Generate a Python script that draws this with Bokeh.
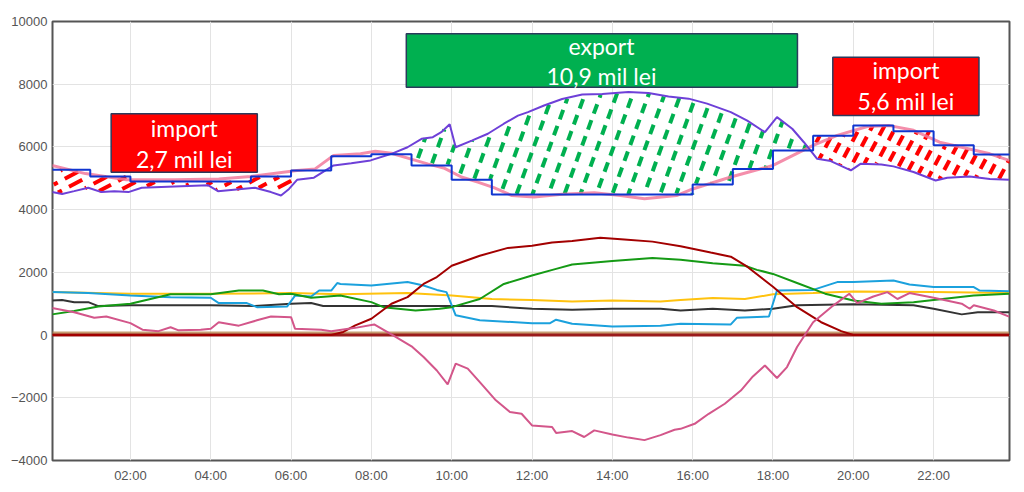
import numpy as np
from bokeh.plotting import figure
from bokeh.models import Range1d, FixedTicker
from bokeh.embed import file_html
from bokeh.resources import INLINE
from bokeh.core.properties import value

# ---------------- data (hours of day, MW) ----------------
x_ticks = [2, 4, 6, 8, 10, 12, 14, 16, 18, 20, 22]
x_tick_labels = ["02:00", "04:00", "06:00", "08:00", "10:00", "12:00",
                 "14:00", "16:00", "18:00", "20:00", "22:00"]
y_ticks = [-4000, -2000, 0, 2000, 4000, 6000, 8000, 10000]

# hourly forecast consumption (step line, blue)
forecast_hours = list(range(24))
forecast_mw = [5270, 5060, 4900, 4900, 4900, 5060, 5250, 5700, 5770, 5410, 4950, 4480,
               4480, 4480, 4480, 4480, 4800, 5300, 5890, 6360, 6680, 6500, 6050, 5760]

# actual consumption (light pink)
consum_t = [0.05, 0.88, 1.9, 3.1, 4.2, 5.0, 6.15, 6.6, 7.06, 7.73, 8.1, 8.5, 8.97, 9.4, 9.8,
            10.24, 10.65, 11.05, 11.5, 12.05, 12.75, 13.55, 14.2, 14.8, 15.6, 16.0, 16.95,
            18.0, 18.5, 19.0, 19.6, 20.35, 20.9, 21.5, 22.15, 22.7, 23.4, 23.88]
consum_mw = [5410, 5150, 4950, 4950, 4980, 5060, 5250, 5300, 5730, 5780, 5860, 5800, 5620,
             5460, 5330, 5040, 4880, 4700, 4450, 4400, 4490, 4540, 4450, 4350, 4450, 4660,
             5040, 5410, 5730, 6050, 6370, 6650, 6680, 6530, 6150, 5990, 5780, 5570]

# production (purple)
prod_t = [0.05, 0.3, 0.6, 0.95, 1.28, 1.6, 1.95, 2.28, 3.1, 3.93, 4.18, 4.77, 5.1, 5.5, 5.75,
          5.95, 6.15, 6.57, 7.06, 7.5, 7.98, 8.5, 8.9, 9.25, 9.53, 9.74, 9.95, 10.1, 10.5,
          10.9, 11.3, 11.65, 11.9, 12.3, 12.75, 13.25, 13.75, 14.4, 14.9, 15.4, 15.9, 16.36,
          16.95, 17.36, 17.8, 18.1, 18.48, 18.77, 19.1, 19.44, 19.94, 20.18, 20.7, 21.0,
          21.5, 22.05, 22.34, 22.9, 23.4, 23.88]
prod_mw = [4560, 4500, 4590, 4700, 4560, 4590, 4560, 4700, 4740, 4780, 4590, 4660, 4700,
           4560, 4450, 4660, 4950, 5020, 5410, 5480, 5570, 5780, 5990, 6260, 6310, 6470,
           6720, 5990, 6200, 6420, 6740, 7000, 7110, 7320, 7530, 7670, 7690, 7750, 7720,
           7610, 7540, 7380, 7110, 6840, 6470, 6950, 6580, 6150, 5620, 5550, 5250, 5460,
           5440, 5380, 5200, 4930, 5020, 5060, 4980, 4950]

# nuclear (yellow)
nuclear_t = [0.05, 2.0, 4.0, 6.0, 7.23, 8.9, 10.0, 11.0, 12.0, 13.0, 14.0, 15.2, 15.7,
             16.5, 17.3, 18.0, 19.0, 20.0, 22.0, 23.88]
nuclear_mw = [1370, 1316, 1316, 1340, 1300, 1340, 1260, 1150, 1120, 1070, 1100, 1070, 1120,
              1180, 1150, 1300, 1340, 1390, 1370, 1340]

# coal (dark grey)
coal_t = [0.05, 0.3, 0.6, 0.95, 1.2, 2.0, 4.0, 5.1, 6.0, 6.5, 6.8, 7.23, 10.0, 11.0, 12.0,
          13.0, 14.0, 15.2, 15.7, 16.5, 17.3, 18.0, 18.6, 20.0, 21.5, 22.0, 22.7, 23.1, 23.88]
coal_mw = [1103, 1120, 1050, 1050, 925, 950, 950, 925, 1000, 1020, 925, 925, 925, 925, 840,
           805, 840, 840, 785, 840, 785, 840, 950, 980, 950, 840, 660, 730, 730]

# hydro (light blue)
hydro_t = [0.05, 0.95, 2.0, 3.0, 4.0, 4.2, 4.9, 5.15, 5.9, 6.1, 6.5, 6.7, 7.0, 7.15, 7.23,
           8.0, 8.9, 9.3, 9.63, 9.87, 10.1, 10.7, 12.0, 12.45, 12.6, 13.0, 14.0, 15.2, 15.7,
           16.95, 17.1, 17.9, 18.1, 19.0, 19.6, 20.0, 21.0, 21.4, 22.0, 23.0, 23.15, 23.88]
hydro_mw = [1370, 1340, 1260, 1210, 1190, 1020, 1020, 890, 910, 1260, 1230, 1420, 1420, 1660,
            1630, 1580, 1690, 1580, 1440, 1370, 630, 470, 380, 380, 490, 360, 270, 300, 360,
            340, 550, 590, 1420, 1440, 1690, 1690, 1740, 1610, 1530, 1530, 1420, 1400]

# wind (green)
wind_t = [0.05, 0.6, 1.2, 2.0, 2.5, 3.0, 4.0, 4.7, 5.3, 5.7, 6.0, 6.5, 7.23, 8.0, 8.3, 9.1,
          9.7, 10.0, 10.7, 11.3, 12.0, 12.6, 13.0, 14.0, 15.0, 15.7, 16.5, 17.3, 17.6, 18.0,
          18.6, 19.3, 20.0, 20.7, 21.5, 22.0, 23.0, 23.88]
wind_mw = [660, 770, 910, 1000, 1150, 1300, 1300, 1420, 1420, 1300, 1320, 1190, 1260, 1050,
           890, 785, 840, 890, 1150, 1630, 1900, 2110, 2250, 2360, 2460, 2400, 2290, 2210,
           2080, 1950, 1660, 1320, 1100, 1000, 1050, 1120, 1260, 1320]

# photovoltaic (dark red)
solar_t = [0.05, 7.0, 7.3, 7.6, 8.0, 8.5, 8.9, 9.3, 9.63, 10.0, 10.7, 11.4, 12.0, 12.5, 13.0,
           13.7, 14.3, 15.0, 15.7, 16.45, 16.95, 17.36, 18.0, 18.6, 19.2, 19.7, 20.0, 23.88]
solar_mw = [0, 0, 100, 310, 520, 1000, 1210, 1630, 1850, 2210, 2530, 2780, 2850, 2950, 3000,
            3100, 3050, 2980, 2830, 2630, 2500, 2180, 1540, 890, 410, 125, 0, 0]

# import/export balance (pink)
balance_t = [0.05, 0.6, 1.1, 1.4, 2.0, 2.3, 2.7, 3.0, 3.2, 3.75, 4.0, 4.2, 4.7, 5.15, 5.5,
             6.0, 6.1, 6.75, 7.0, 7.6, 8.07, 8.5, 9.0, 9.3, 9.63, 9.9, 10.1, 10.4, 10.7, 11.1,
             11.45, 11.74, 12.0, 12.5, 12.6, 13.0, 13.3, 13.55, 14.0, 14.4, 14.8, 15.2, 15.55,
             15.7, 16.05, 16.4, 16.8, 17.2, 17.5, 17.8, 18.1, 18.35, 18.6, 19.0, 19.5, 19.9,
             20.1, 20.5, 20.85, 21.1, 21.4, 22.0, 22.7, 22.9, 23.0, 23.5, 23.88]
balance_mw = [860, 730, 550, 590, 380, 170, 125, 250, 150, 170, 200, 410, 300, 470, 590, 570,
              200, 170, 125, 230, 340, 20, -360, -700, -1130, -1570, -910, -1070, -1500,
              -2080, -2450, -2510, -2880, -2930, -3120, -3060, -3250, -3040, -3170, -3270,
              -3350, -3190, -3020, -2990, -2830, -2510, -2190, -1770, -1320, -970, -1370,
              -1020, -380, 410, 940, 1320, 1020, 1230, 1370, 1150, 1340, 1190, 1000, 840, 950,
              785, 590]

# flat series near zero
other1_t = [0.05, 23.88]
other1_mw = [70, 70]
other2_t = [0.05, 23.88]
other2_mw = [0, 0]

# import / export intervals (hours) and labels
import1_span = [0.0, 6.2]
export_span = [8.9, 18.9]
import2_span = [18.9, 24.0]
box_labels = [("import", "2,7 mil lei"), ("export", "10,9 mil lei"), ("import", "5,6 mil lei")]

# ---------------- figure ----------------
X0, X1 = 0.06, 23.89
Y0, Y1 = -4000, 10000
FW, FH = 957, 439

p = figure(frame_width=FW, frame_height=FH, output_backend="svg", toolbar_location=None,
           x_range=Range1d(X0, X1), y_range=Range1d(Y0, Y1),
           min_border_left=52, min_border_right=8, min_border_top=21, min_border_bottom=10)
p.title.visible = False
p.background_fill_color = "white"
p.border_fill_color = "white"
p.outline_line_color = "#555555"
p.outline_line_width = 2

p.xaxis.ticker = FixedTicker(ticks=x_ticks)
p.xaxis.major_label_overrides = {t: l for t, l in zip(x_ticks, x_tick_labels)}
p.yaxis.ticker = FixedTicker(ticks=y_ticks)
for ax in (p.xaxis, p.yaxis):
    ax.axis_line_color = None
    ax.major_tick_line_color = None
    ax.minor_tick_line_color = None
    ax.major_tick_out = 0
    ax.major_tick_in = 0
    ax.major_label_text_font = "Liberation Sans"
    ax.major_label_text_font_size = "13px"
    ax.major_label_text_color = "#555555"
p.xaxis.major_label_standoff = 7
p.yaxis.major_label_standoff = 5
p.xgrid.grid_line_color = "#e3e3e3"
p.ygrid.grid_line_color = "#e3e3e3"


def forecast_at(h):
    idx = np.clip(np.floor(h).astype(int), 0, 23)
    return np.array(forecast_mw)[idx]


def to_data(px, py):
    return X0 + px / FW * (X1 - X0), Y0 + py / FH * (Y1 - Y0)


def hatch(angle, sp, L, G, span, export):
    a = np.radians(angle)
    d = np.array([np.cos(a), np.sin(a)])
    n = np.array([np.sin(a), -np.cos(a)])
    diag = np.hypot(FW, FH)
    ks = np.arange(-int(diag / sp) - 2, int(diag / sp) + 2) * sp
    ts = np.arange(-diag, diag, L + G)
    K, T = np.meshgrid(ks, ts)
    sx = K * n[0] + T * d[0]
    sy = K * n[1] + T * d[1]
    frac = np.linspace(0, 1, 11)
    px = sx[..., None] + frac * L * d[0]
    py = sy[..., None] + frac * L * d[1]
    h, v = to_data(px, py)
    b = forecast_at(h)
    pr = np.interp(h, prod_t, prod_mw)
    inside = (v >= np.minimum(b, pr)) & (v <= np.maximum(b, pr))
    inside &= (h >= max(span[0], X0)) & (h <= min(span[1], X1))
    inside &= (pr > b) if export else (b > pr)
    anyin = inside.any(axis=-1)
    m = frac.size
    first = np.argmax(inside, axis=-1)
    last = m - 1 - np.argmax(inside[..., ::-1], axis=-1)
    hx0 = np.take_along_axis(h, first[..., None], -1)[..., 0][anyin]
    vy0 = np.take_along_axis(v, first[..., None], -1)[..., 0][anyin]
    hx1 = np.take_along_axis(h, last[..., None], -1)[..., 0][anyin]
    vy1 = np.take_along_axis(v, last[..., None], -1)[..., 0][anyin]
    keep = (hx0 != hx1) | (vy0 != vy1)
    return hx0[keep], vy0[keep], hx1[keep], vy1[keep]


for angle, sp, L, G, span, export, col in [
        (28, 9, 15, 8, import1_span, False, "#ff0000"),
        (70, 15, 10, 7, export_span, True, "#00b050"),
        (62, 10.5, 11, 7, import2_span, False, "#ff0000")]:
    a0, b0, a1, b1 = hatch(angle, sp, L, G, span, export)
    p.segment(a0, b0, a1, b1, line_color=col, line_width=4, line_cap="butt")

# bottom series
p.line(other1_t, other1_mw, line_color="#b8864e", line_width=3, line_alpha=0.8)
p.line(other2_t, other2_mw, line_color="#9b1c1c", line_width=3)
p.line(coal_t, coal_mw, line_color="#333333", line_width=2)
p.line(nuclear_t, nuclear_mw, line_color="#ffc20e", line_width=2)
p.line(hydro_t, hydro_mw, line_color="#1ba1dd", line_width=2)
p.line(wind_t, wind_mw, line_color="#159a15", line_width=2)
p.line(solar_t, solar_mw, line_color="#a30000", line_width=2)
p.line(balance_t, balance_mw, line_color="#d3568a", line_width=2)

# top series
p.line(consum_t, consum_mw, line_color="#f27a9c", line_width=3, line_alpha=0.85)
p.line(prod_t, prod_mw, line_color="#6e40d8", line_width=2)
p.step(forecast_hours + [24], forecast_mw + [forecast_mw[-1]], mode="after",
       line_color="#1035d0", line_width=2)

# label boxes (hours / MW)
box_left = [1.52, 8.87, 19.49]
box_right = [5.16, 18.61, 23.13]
box_top = [7057, 9608, 8862]
box_bottom = [5195, 7906, 7003]
box_fill = ["#ff0000", "#00b050", "#ff0000"]
p.quad(left=box_left, right=box_right, top=box_top, bottom=box_bottom,
       fill_color=box_fill, line_color="#2b3a5c", line_width=1.5)
text_x = [3.34, 13.73, 21.31]
line1_y = [6590, 9210, 8440]
line2_y = [5630, 8270, 7480]
p.text(x=text_x, y=line1_y, text=[b[0] for b in box_labels], text_align="center",
       text_baseline="middle", text_color="white", text_font=value("Lato"),
       text_font_size="23px")
p.text(x=text_x, y=line2_y, text=[b[1] for b in box_labels], text_align="center",
       text_baseline="middle", text_color="white", text_font=value("Lato"),
       text_font_size="23px")

open("out.html", "w").write(file_html(p, INLINE))
